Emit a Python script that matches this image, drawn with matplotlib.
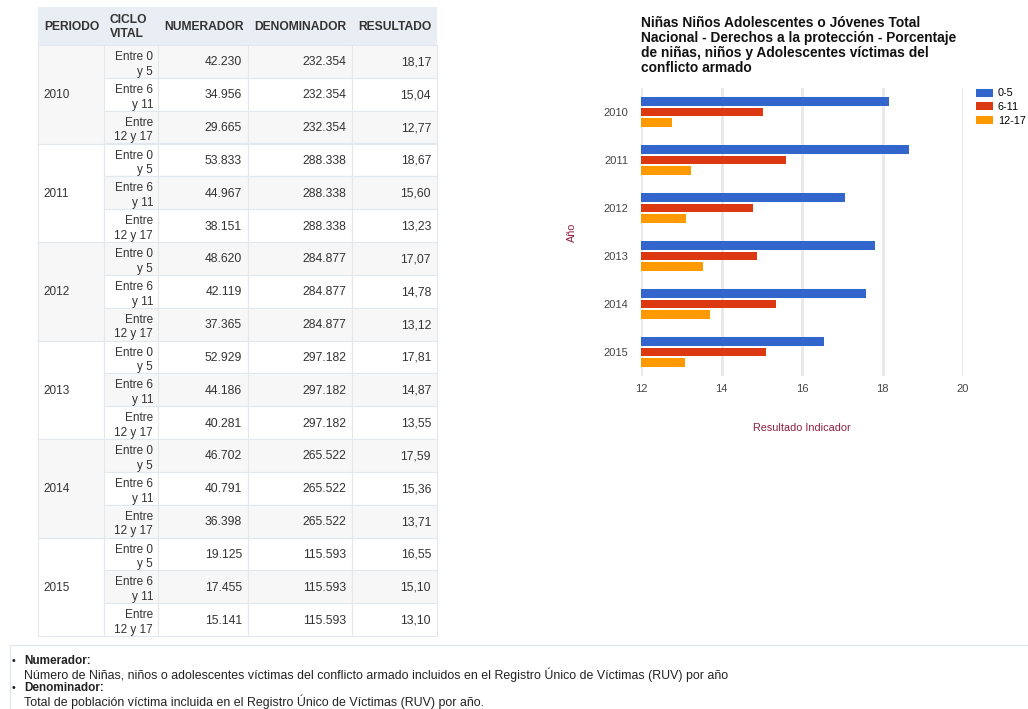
import matplotlib.pyplot as plt
from matplotlib.patches import Rectangle

plt.rcParams["font.family"] = ["Liberation Sans", "DejaVu Sans"]

# Data
periodos = ["2010", "2011", "2012", "2013", "2014", "2015"]
ciclos = ["Entre 0\ny 5", "Entre 6\ny 11", "Entre\n12 y 17"]
series_labels = ["0-5", "6-11", "12-17"]
numerador = [
    [42230, 34956, 29665],
    [53833, 44967, 38151],
    [48620, 42119, 37365],
    [52929, 44186, 40281],
    [46702, 40791, 36398],
    [19125, 17455, 15141],
]
denominador = [232354, 288338, 284877, 297182, 265522, 115593]
resultado = [
    [18.17, 15.04, 12.77],
    [18.67, 15.60, 13.23],
    [17.07, 14.78, 13.12],
    [17.81, 14.87, 13.55],
    [17.59, 15.36, 13.71],
    [16.55, 15.10, 13.10],
]
headers = ["PERIODO", "CICLO\nVITAL", "NUMERADOR", "DENOMINADOR", "RESULTADO"]
x_ticks = [12, 14, 16, 18, 20]

chart_title = ("Niñas Niños Adolescentes o Jóvenes Total\n"
               "Nacional - Derechos a la protección - Porcentaje\n"
               "de niñas, niños y Adolescentes víctimas del\n"
               "conflicto armado")
nota_num = ("Número de Niñas, niños o adolescentes víctimas del conflicto armado "
            "incluidos en el Registro Único de Víctimas (RUV) por año")
nota_den = "Total de población víctima incluida en el Registro Único de Víctimas (RUV) por año."

COLORS = ["#3366cc", "#dc3912", "#ff9900"]
BORDER = "#e3e8ee"
TXT = "#333333"
LABEL_RED = "#8e1f3f"


def fmt_int(v):
    return f"{v:,}".replace(",", ".")


def fmt_dec(v):
    return f"{v:.2f}".replace(".", ",")


fig = plt.figure(figsize=(10.28, 7.09), dpi=100)

# ---- table + notes drawn in pixel coordinates ----
bg = fig.add_axes([0, 0, 1, 1])
bg.set_xlim(0, 1028)
bg.set_ylim(709, 0)
bg.axis("off")

col_x = [38, 104, 158, 248, 352, 437]
head_top, head_bot = 7, 45
row_h = (636 - head_bot) / 18

bg.add_patch(Rectangle((col_x[0], head_top), col_x[-1] - col_x[0], head_bot - head_top,
                       facecolor="#e9eef4", edgecolor="none"))
for j, h in enumerate(headers):
    bg.text(col_x[j] + 6, (head_top + head_bot) / 2 + 1, h, fontsize=8.7, fontweight="bold",
            color=TXT, ha="left", va="center", linespacing=1.3)

for i, per in enumerate(periodos):
    y0 = head_bot + 3 * i * row_h
    per_bg = "#f7f7f7" if (3 * i) % 2 == 0 else "white"
    bg.add_patch(Rectangle((col_x[0], y0), col_x[1] - col_x[0], 3 * row_h,
                           facecolor=per_bg, edgecolor=BORDER, lw=0.8))
    bg.text(col_x[0] + 5, y0 + 1.5 * row_h + 1, per, fontsize=8.5, color=TXT,
            ha="left", va="center")
    for k in range(3):
        r = 3 * i + k
        ry = head_bot + r * row_h
        fc = "#f7f7f7" if r % 2 == 0 else "white"
        for j in range(1, 5):
            bg.add_patch(Rectangle((col_x[j], ry), col_x[j + 1] - col_x[j], row_h,
                                   facecolor=fc, edgecolor=BORDER, lw=0.8))
        cy = ry + row_h / 2 + 1
        bg.text(col_x[2] - 5, cy + 2, ciclos[k], fontsize=8.5, color=TXT, ha="right",
                va="center", multialignment="right", linespacing=1.28)
        bg.text(col_x[3] - 6, cy, fmt_int(numerador[i][k]), fontsize=8.7, color=TXT,
                ha="right", va="center")
        bg.text(col_x[4] - 6, cy, fmt_int(denominador[i]), fontsize=8.7, color=TXT,
                ha="right", va="center")
        bg.text(col_x[5] - 6, cy, fmt_dec(resultado[i][k]), fontsize=8.7, color=TXT,
                ha="right", va="center")

# notes box
bg.add_patch(Rectangle((10, 645), 1030, 80, facecolor="white", edgecolor=BORDER, lw=1))
bg.text(12, 661, "•", fontsize=7.5, fontweight="bold", color="#222222", va="center")
bg.text(24, 661, "Numerador:", fontsize=8.5, fontweight="bold", color="#222222", va="center")
bg.text(24, 675, nota_num, fontsize=8.9, color="#222222", va="center")
bg.text(12, 688, "•", fontsize=7.5, fontweight="bold", color="#222222", va="center")
bg.text(24, 688, "Denominador:", fontsize=8.5, fontweight="bold", color="#222222", va="center")
bg.text(24, 702, nota_den, fontsize=8.9, color="#222222", va="center")

# ---- bar chart ----
ax = fig.add_axes([641 / 1028, 1 - 376 / 709, 322 / 1028, 288 / 709])
offsets = [-0.22, 0.0, 0.22]
for s in range(3):
    ys = [i + offsets[s] for i in range(len(periodos))]
    vals = [resultado[i][s] for i in range(len(periodos))]
    ax.barh(ys, [v - 12 for v in vals], left=12, height=0.18, color=COLORS[s],
            label=series_labels[s], zorder=3)

ax.set_xlim(12, 20)
ax.set_ylim(len(periodos) - 0.5, -0.5)
ax.set_xticks(x_ticks)
ax.set_xticklabels([str(t) for t in x_ticks])
ax.set_yticks(range(len(periodos)))
ax.set_yticklabels(periodos)
ax.tick_params(axis="both", length=0, labelsize=8, colors="#444444")
ax.tick_params(axis="x", pad=6)
ax.tick_params(axis="y", pad=9)
ax.grid(axis="x", color="#e8e8e8", lw=2, zorder=0)
for sp in ax.spines.values():
    sp.set_visible(False)

fig.text(641 / 1028, 1 - 16 / 709, chart_title, fontsize=9.9, fontweight="bold",
         color="#111111", ha="left", va="top", linespacing=1.08)
fig.text(572 / 1028, 1 - 232 / 709, "Año", fontsize=7.8, color=LABEL_RED,
         rotation=90, ha="center", va="center")
fig.text(802 / 1028, 1 - 428 / 709, "Resultado Indicador", fontsize=7.8, color=LABEL_RED,
         ha="center", va="center")

ax.legend(loc="upper left", bbox_to_anchor=(972 / 1028, 1 - 84 / 709),
          bbox_transform=fig.transFigure, frameon=False, fontsize=7.8,
          handlelength=1.5, handleheight=0.75, labelspacing=0.35, handletextpad=0.5,
          borderaxespad=0)

fig.savefig("out.png", dpi=100)
